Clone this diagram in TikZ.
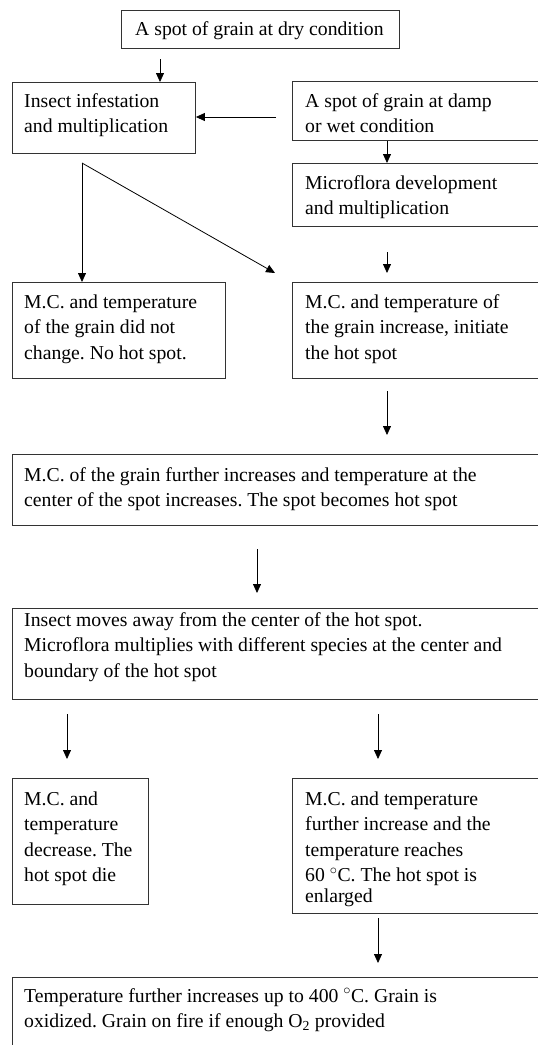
\documentclass[tikz,border=0pt]{standalone}
\usepackage{fontspec}
\setmainfont{Liberation Serif}
\usetikzlibrary{arrows.meta}
\frenchspacing
\begin{document}
\begin{tikzpicture}[x=1pt,y=-1pt,
  box/.style={draw=black!80, line width=0.9pt, inner sep=0pt, anchor=north west},
  txt/.style={inner sep=0pt, anchor=north west, yshift=17.85pt, align=left,
              font=\fontsize{19.7}{25.5}\selectfont},
  arr/.style={-{Triangle[length=9pt,width=8pt]}, line width=0.8pt},
  ln/.style={line width=0.8pt}]
\useasboundingbox (0,0) rectangle (538,1045);
\clip (0,0) rectangle (538,1045);

% boxes
\node[box, minimum width=278pt, minimum height=38pt] (top) at (121,10) {};
\node[box, minimum width=183pt, minimum height=71pt] (insect) at (12,82) {};
\node[box, minimum width=270pt, minimum height=59pt] (damp) at (292,81) {};
\node[box, minimum width=270pt, minimum height=63pt] (micro) at (292,163) {};
\node[box, minimum width=213pt, minimum height=96pt] (mcl) at (12,282) {};
\node[box, minimum width=270pt, minimum height=96pt] (mcr) at (292,282) {};
\node[box, minimum width=550pt, minimum height=71pt] (further) at (12,454) {};
\node[box, minimum width=550pt, minimum height=91pt] (moves) at (12,608) {};
\node[box, minimum width=136pt, minimum height=126pt] (bl) at (12,778) {};
\node[box, minimum width=270pt, minimum height=135pt] (br) at (292,778) {};
\node[box, minimum width=550pt, minimum height=100pt] (final) at (12,977) {};

% texts
\node[txt] (topT) at (135,35) {\strut A spot of grain at dry condition};
\node[txt] (insectT) at (24,107) {\strut Insect infestation\\and multiplication};
\node[txt] (dampT) at (305,107) {\strut A spot of grain at damp\\or wet condition};
\node[txt] (microT) at (305,189) {\strut Microflora development\\and multiplication};
\node[txt] (mclT) at (24,308) {\strut M.C. and temperature\\of the grain did not\\change. No hot spot.};
\node[txt] (mcrT) at (305,308) {\strut M.C. and temperature of\\the grain increase, initiate\\the hot spot};
\node[txt] (furtherT) at (24,481) {\strut M.C. of the grain further increases and temperature at the\\center of the spot increases. The spot becomes hot spot};
\node[txt] (movesT) at (24,626) {\strut Insect moves away from the center of the hot spot.\\Microflora multiplies with different species at the center and\\boundary of the hot spot};
\node[txt] (blT) at (24,805) {\strut M.C. and\\temperature\\decrease. The\\hot spot die};
\node[txt] (brT) at (305,805) {\strut M.C. and temperature\\further increase and the\\temperature reaches\\60~$^{\circ}$C. The hot spot is\\[-5pt]enlarged};
\node[txt] (finalT) at (24,1002) {\strut Temperature further increases up to 400~$^{\circ}$C. Grain is\\oxidized. Grain on fire if enough O\textsubscript{2} provided};

% connectors
\coordinate (c1) at (160,59);
\draw[arr] (c1) -- (c1 |- insect.north);
\coordinate (c2) at (276,117);
\draw[arr] (c2) -- (c2 -| insect.east);
\coordinate (c3) at (387,150);
\draw[arr] (c3 |- damp.south) -- (c3 |- micro.north);
\coordinate (c4) at (82,163);
\draw[arr] (c4) -- (c4 |- mcl.north);
\coordinate (c5) at (275,273);
\draw[arr] (c4) -- (c5);
\coordinate (c6) at (387,252);
\coordinate (c7) at (387,273);
\draw[arr] (c6) -- (c7);
\coordinate (c8) at (387,391);
\coordinate (c9) at (387,435);
\draw[arr] (c8) -- (c9);
\coordinate (c10) at (257,549);
\coordinate (c11) at (257,593);
\draw[arr] (c10) -- (c11);
\coordinate (c12) at (67,714);
\coordinate (c13) at (67,759);
\draw[arr] (c12) -- (c13);
\coordinate (c14) at (378,714);
\coordinate (c15) at (378,759);
\draw[arr] (c14) -- (c15);
\coordinate (c16) at (378,918);
\coordinate (c17) at (378,963);
\draw[arr] (c16) -- (c17);
\end{tikzpicture}
\end{document}
